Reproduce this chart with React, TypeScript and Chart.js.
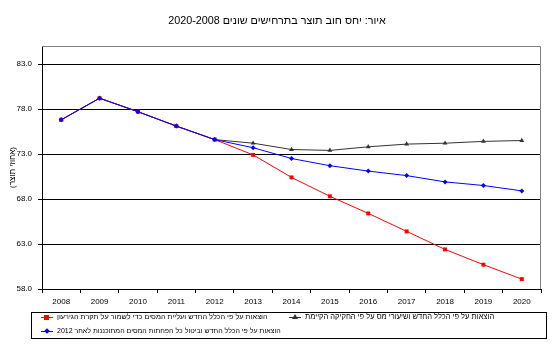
import React, { useEffect, useRef } from "react";
import { Chart, registerables } from "chart.js";

Chart.register(...registerables);

const years = ["2008", "2009", "2010", "2011", "2012", "2013", "2014", "2015", "2016", "2017", "2018", "2019", "2020"];
const redValues = [76.8, 79.2, 77.7, 76.1, 74.6, 72.9, 70.4, 68.3, 66.4, 64.4, 62.4, 60.7, 59.1];
const grayValues = [76.8, 79.2, 77.7, 76.1, 74.6, 74.2, 73.5, 73.4, 73.8, 74.1, 74.2, 74.4, 74.5];
const blueValues = [76.8, 79.2, 77.7, 76.1, 74.6, 73.7, 72.5, 71.7, 71.1, 70.6, 69.9, 69.5, 68.9];
const yTicks = [58, 63, 68, 73, 78, 83];

const titleText = "איור: יחס חוב תוצר בתרחישים שונים 2020-2008";
const yTitle = "(אחוזי תוצר)";
const redLabel = "הוצאות על פי הכלל החדש ועליית המסים כדי לשמור על תקרת הגירעון";
const grayLabel = "הוצאות על פי הכלל החדש ושיעורי מס על פי החקיקה הקיימת";
const blueLabel = "הוצאות על פי הכלל החדש וביטול כל הפחתות המסים המתוכננות לאחר 2012";

const RED = "#ff0000";
const GRAY = "#333333";
const BLUE = "#0000ff";
const FONT = "'Liberation Sans', Arial, 'DejaVu Sans', sans-serif";

const borderPlugin = {
  id: "plotBorder",
  afterDraw(chart: any) {
    const { ctx, chartArea } = chart;
    ctx.save();
    ctx.strokeStyle = "#808080";
    ctx.lineWidth = 1;
    ctx.beginPath();
    ctx.moveTo(chartArea.left, chartArea.top + 0.5);
    ctx.lineTo(chartArea.right - 0.5, chartArea.top + 0.5);
    ctx.lineTo(chartArea.right - 0.5, chartArea.bottom);
    ctx.stroke();
    ctx.restore();
  },
};

function Marker({ kind, color }: { kind: string; color: string }) {
  if (kind === "tri") {
    return (
      <div style={{ position: "absolute", left: 3, top: -1, width: 0, height: 0, borderLeft: "3px solid transparent", borderRight: "3px solid transparent", borderBottom: `5px solid ${color}` }} />
    );
  }
  if (kind === "diamond") {
    return <div style={{ position: "absolute", left: 4, top: 0, width: 4, height: 4, background: color, transform: "rotate(45deg)" }} />;
  }
  return <div style={{ position: "absolute", left: 3, top: -0.5, width: 5, height: 5, background: color }} />;
}

function LegendItem({ left, top, color, kind, text, size }: { left: number; top: number; color: string; kind: string; text: string; size: number }) {
  return (
    <div style={{ position: "absolute", left, top, height: 10, display: "flex", alignItems: "center" }}>
      <div style={{ position: "relative", width: 12, height: 4, flex: "none" }}>
        <div style={{ position: "absolute", left: 0, top: 1.5, width: 12, height: 1, background: color }} />
        <Marker kind={kind} color={color} />
      </div>
      <div dir="rtl" style={{ marginLeft: 4, fontFamily: FONT, fontSize: size, lineHeight: "10px", whiteSpace: "nowrap", color: "#000" }}>
        {text}
      </div>
    </div>
  );
}

export default function App() {
  const canvasRef = useRef<HTMLCanvasElement | null>(null);

  useEffect(() => {
    if (!canvasRef.current) return;
    const chart = new Chart(canvasRef.current, {
      type: "line",
      data: {
        labels: years,
        datasets: [
          {
            label: blueLabel,
            data: blueValues,
            borderColor: BLUE,
            backgroundColor: BLUE,
            borderWidth: 1,
            pointStyle: "rectRot",
            pointRadius: 2.5,
            pointBorderWidth: 0,
            order: 1,
          },
          {
            label: redLabel,
            data: redValues,
            borderColor: RED,
            backgroundColor: RED,
            borderWidth: 1,
            pointStyle: "rect",
            pointRadius: 2.8,
            pointBorderWidth: 0,
            order: 2,
          },
          {
            label: grayLabel,
            data: grayValues,
            borderColor: GRAY,
            backgroundColor: GRAY,
            borderWidth: 1,
            pointStyle: "triangle",
            pointRadius: 2.8,
            pointBorderWidth: 0,
            order: 3,
          },
        ],
      },
      options: {
        responsive: false,
        animation: false,
        devicePixelRatio: 1,
        layout: { padding: { left: 0, top: 46, right: 15, bottom: 40 } },
        plugins: {
          legend: { display: false },
          title: { display: false },
          tooltip: { enabled: false },
        },
        elements: { line: { tension: 0 } },
        scales: {
          x: {
            type: "category",
            offset: true,
            grid: { display: true, drawOnChartArea: false, drawTicks: true, tickLength: 4, color: "#000", offset: true },
            border: { display: true, color: "#000", width: 1 },
            ticks: { color: "#000", font: { family: FONT, size: 8 }, padding: 4, maxRotation: 0, autoSkip: false },
            afterFit(scale: any) {
              scale.height = 22;
            },
          },
          y: {
            type: "linear",
            min: 58,
            max: 85,
            afterBuildTicks(scale: any) {
              scale.ticks = yTicks.map((v) => ({ value: v }));
            },
            grid: { color: "#000", lineWidth: 1, tickLength: 4, drawTicks: true },
            border: { display: true, color: "#000", width: 1 },
            ticks: {
              color: "#000",
              font: { family: FONT, size: 8 },
              padding: 6,
              callback: (v: any) => Number(v).toFixed(1),
            },
            title: {
              display: true,
              text: yTitle,
              color: "#000",
              font: { family: FONT, size: 8 },
              padding: { top: 8, bottom: 0 },
            },
            afterFit(scale: any) {
              scale.width = 42;
            },
          },
        },
      },
      plugins: [borderPlugin],
    });
    return () => chart.destroy();
  }, []);

  return (
    <div style={{ position: "absolute", left: 0, top: 0, width: 556, height: 351, background: "#fff" }}>
      <canvas ref={canvasRef} width={556} height={351} style={{ display: "block", width: 556, height: 351 }} />
      <div dir="rtl" style={{ position: "absolute", left: 0, width: 556, top: 14, textAlign: "center", fontFamily: FONT, fontSize: 10.8, lineHeight: "13px" }}>
        <span style={{ position: "relative", left: -1 }}>{titleText}</span>
      </div>
      <div style={{ position: "absolute", left: 31, top: 312, width: 514, height: 25, border: "1px solid #000" }} />
      <LegendItem left={41} top={312} color={RED} kind="rect" text={redLabel} size={7.3} />
      <LegendItem left={289} top={312} color={GRAY} kind="tri" text={grayLabel} size={7.5} />
      <LegendItem left={41} top={326} color={BLUE} kind="diamond" text={blueLabel} size={7.0} />
    </div>
  );
}
